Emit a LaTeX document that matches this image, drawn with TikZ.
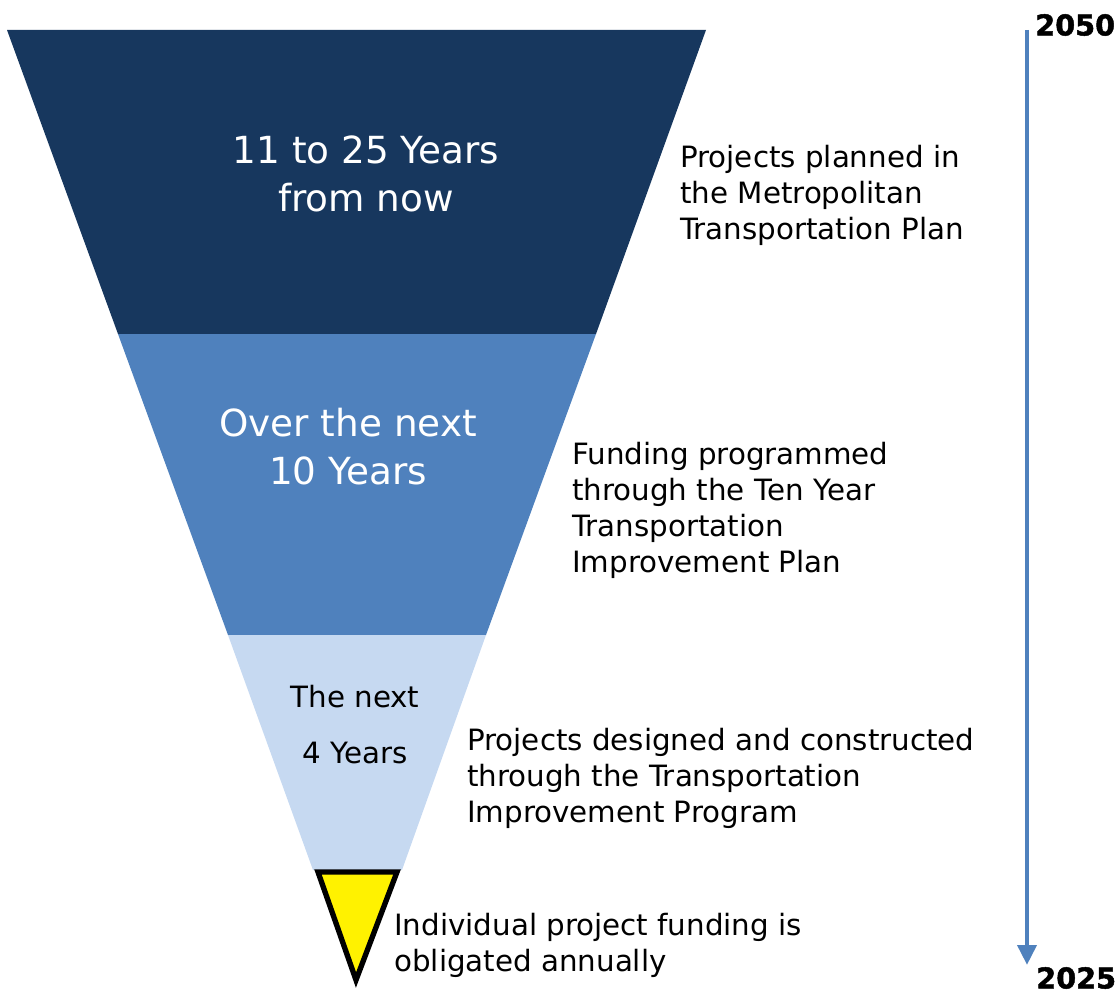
\documentclass[tikz,border=0pt]{standalone}
\usepackage{fontspec}
\setmainfont{DejaVu Sans}
\newfontfamily\yearfont[BoldFeatures={FakeBold=1.6}]{DejaVu Sans}
\usepackage{tikz}
\usetikzlibrary{arrows.meta, positioning}
\usepackage{xcolor}
\definecolor{coneDark}{HTML}{17375E}
\definecolor{coneMid}{HTML}{4F81BD}
\definecolor{coneLight}{HTML}{C6D9F1}
\definecolor{timeBlue}{HTML}{4F81BD}
\tikzset{%
	band text/.style={
		align=center,
		inner sep=0pt,
		font=\fontsize{28}{36}\selectfont
	},
	side text/.style={
		anchor=west,
		align=left,
		inner sep=0pt,
		font=\fontsize{22}{27}\selectfont
	},
	year label/.style={
		inner sep=0pt,
		font=\fontsize{21.5}{24}\selectfont\yearfont\bfseries
	},
}

\begin{document}
\begin{tikzpicture}[x=0.75pt, y=-0.75pt]
			\useasboundingbox (0,0) rectangle (1120,995);
			
			% Funnel bands
			\fill[coneDark] (7,30) -- (706,30) -- (596,334) -- (118,334) -- cycle;
			\fill[coneMid] (118,334) -- (596,334) -- (486,635) -- (228,635) -- cycle;
			\fill[coneLight] (228,635) -- (486,635) -- (402,870) -- (313,870) -- cycle;
			
			% Tip of the funnel
			\filldraw[fill=yellow, draw=black, line width=4pt, line join=miter] (318,872) -- (397,872) -- (356,980) -- cycle;
			
			% Texts inside the funnel
			\node[band text, text=white] (far) at (366,174) {11 to 25 Years\\from now};
			\node[band text, text=white] (mid) at (348,447) {Over the next\\10 Years};
			\node[band text, font=\fontsize{22}{42}\selectfont] (near) at (355,725) {The next\\4 Years};
			
			% Texts beside the funnel
			\node[side text] (mtp) at (680,195) {Projects planned in\\the Metropolitan\\Transportation Plan};
			\node[side text] (tyip) at (572,510) {Funding programmed\\through the Ten Year\\Transportation\\Improvement Plan};
			\node[side text] (tip) at (467,778) {Projects designed and constructed\\through the Transportation\\Improvement Program};
			\node[side text] (annual) at (394,945) {Individual project funding is\\obligated annually};
			
			% Time line
			\coordinate (tstart) at (1027,30);
			\coordinate (tend) at (1027,965);
			\draw[timeBlue, line width=3.5pt, -{Triangle[length=15pt, width=14pt]}] (tstart) -- (tend);
			\node[year label, anchor=west] (y2050) at (1035,25) {2050};
			\node[year label, anchor=west] (y2025) at (1036,978) {2025};
		\end{tikzpicture}
\end{document}
